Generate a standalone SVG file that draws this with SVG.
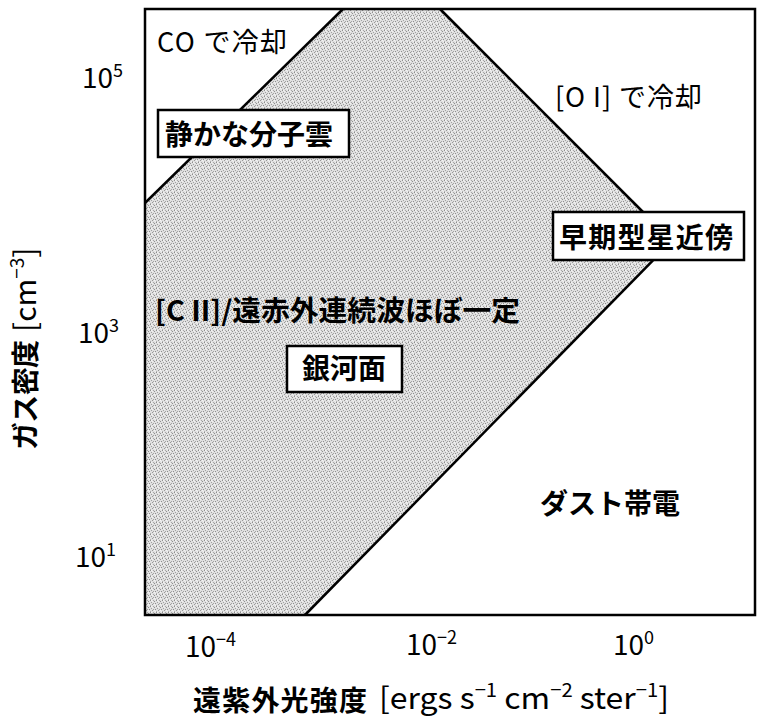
<svg xmlns="http://www.w3.org/2000/svg" width="757" height="721" viewBox="0 0 757 721">
<style>
.t{font-family:"Noto Sans CJK JP","Noto Sans",sans-serif;fill:#000}
.b{font-weight:bold;font-size:28px}
.m{font-weight:normal;font-size:27px}
.n{font-weight:normal;font-size:28px}
.l{font-weight:normal;font-size:30px}
.sup{font-size:18px}
.sup2{font-size:19px}
.ln{stroke:#000;stroke-width:2.5;fill:none}
.box{fill:#fff;stroke:#000;stroke-width:2.5}
</style>
<defs>
<pattern id="dots" width="6" height="6" patternUnits="userSpaceOnUse">
<rect width="6" height="6" fill="#e0e0e0"/>
<rect x="0" y="0" width="1" height="1" fill="#8e8e8e"/>
<rect x="3" y="0" width="1" height="1" fill="#a8a8a8"/>
<rect x="4" y="1" width="1" height="1" fill="#909090"/>
<rect x="1" y="2" width="1" height="1" fill="#a0a0a0"/>
<rect x="5" y="3" width="1" height="1" fill="#8e8e8e"/>
<rect x="2" y="4" width="1" height="1" fill="#989898"/>
<rect x="0" y="5" width="1" height="1" fill="#b0b0b0"/>
<rect x="3" y="3" width="1" height="1" fill="#a4a4a4"/>
<rect x="1" y="0" width="1" height="1" fill="#f5f5f5"/>
<rect x="4" y="4" width="1" height="1" fill="#f5f5f5"/>
<rect x="2" y="1" width="1" height="1" fill="#f0f0f0"/>
<rect x="5" y="5" width="1" height="1" fill="#f0f0f0"/>
</pattern>
</defs>
<rect width="757" height="721" fill="#fff"/>
<g id="region-cii">
<polygon points="145,203 343,9 440,9 672,241 305,615 145,615" fill="url(#dots)"/>
</g>
<g id="connectors">
<line class="ln" x1="145" y1="203" x2="343" y2="9"/>
<line class="ln" x1="440" y1="9" x2="672" y2="241"/>
<line class="ln" x1="672" y1="241" x2="305" y2="615"/>
</g>
<g id="frame">
<rect x="145" y="9" width="610" height="606" fill="none" stroke="#000" stroke-width="2.5"/>
</g>
<g id="label-co"><text class="t m" x="157" y="52" textLength="130">CO で冷却</text></g>
<g id="label-oi"><text class="t m" x="555" y="107" textLength="147">[O I] で冷却</text></g>
<g id="node-quiet">
<rect class="box" x="158" y="110" width="191" height="47"/>
<text class="t b" x="165" y="145">静かな分子雲</text>
</g>
<g id="node-early">
<rect class="box" x="553" y="212" width="191" height="48"/>
<text class="t b" x="559" y="248" textLength="174">早期型星近傍</text>
</g>
<g id="label-cii"><text class="t b" x="155" y="321" textLength="365" lengthAdjust="spacingAndGlyphs">[C II]/遠赤外連続波ほぼ一定</text></g>
<g id="node-galactic">
<rect class="box" x="287" y="346" width="115" height="46"/>
<text class="t b" x="302" y="379">銀河面</text>
</g>
<g id="label-dust"><text class="t b" x="540" y="514">ダスト帯電</text></g>
<g id="x-ticks">
<text class="t n" x="185" y="657">10<tspan class="sup" dy="-11">−4</tspan></text>
<text class="t n" x="406" y="655">10<tspan class="sup" dy="-11">−2</tspan></text>
<text class="t n" x="613" y="655">10<tspan class="sup" dy="-11">0</tspan></text>
</g>
<g id="y-ticks">
<text class="t n" x="82" y="88">10<tspan class="sup" dy="-11">5</tspan></text>
<text class="t n" x="78" y="343">10<tspan class="sup" dy="-11">3</tspan></text>
<text class="t n" x="75" y="567">10<tspan class="sup" dy="-11">1</tspan></text>
</g>
<g id="x-axis-label">
<text class="t b" x="193" y="711" textLength="174">遠紫外光強度</text>
<text class="t l" x="379" y="709" textLength="290" lengthAdjust="spacingAndGlyphs">[ergs s<tspan class="sup2" dy="-12">−1</tspan><tspan dy="12"> cm</tspan><tspan class="sup2" dy="-12">−2</tspan><tspan dy="12"> ster</tspan><tspan class="sup2" dy="-12">−1</tspan><tspan dy="12">]</tspan></text>
</g>
<g id="y-axis-label">
<text class="t b" transform="translate(36,450) rotate(-90)" textLength="110">ガス密度</text>
<text class="t l" transform="translate(36,332) rotate(-90)">[cm<tspan class="sup2" dy="-12">−3</tspan><tspan dy="12">]</tspan></text>
</g>
</svg>
